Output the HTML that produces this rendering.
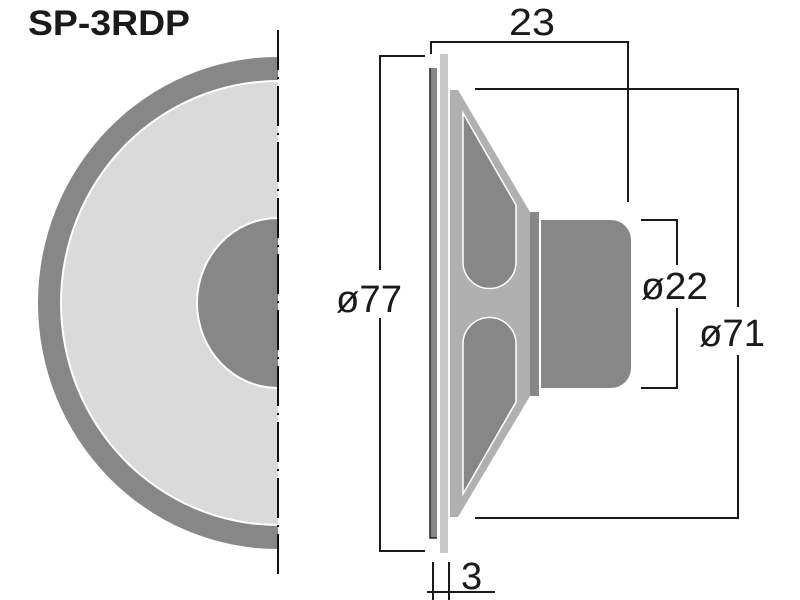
<!DOCTYPE html>
<html><head><style>html,body{margin:0;padding:0;background:#fff}svg{display:block}</style></head>
<body>
<svg width="800" height="600" viewBox="0 0 800 600" xmlns="http://www.w3.org/2000/svg" font-family="Liberation Sans, sans-serif">
<rect width="800" height="600" fill="#fff"/>
<text x="28" y="35" font-size="35" font-weight="bold" fill="#1a1a1a" textLength="162" lengthAdjust="spacingAndGlyphs">SP-3RDP</text>
<!-- left view -->
<clipPath id="lh"><rect x="0" y="0" width="278" height="600"/></clipPath>
<g clip-path="url(#lh)">
<ellipse cx="278" cy="303" rx="240" ry="246" fill="#878787"/>
<ellipse cx="278" cy="303" rx="218" ry="223" fill="#fff"/>
<ellipse cx="278" cy="303" rx="216" ry="221" fill="#dadada"/>
<ellipse cx="278" cy="303" rx="82" ry="86" fill="#fff"/>
<ellipse cx="278" cy="303" rx="80" ry="84" fill="#878787"/>
</g>
<line x1="278" y1="30" x2="278" y2="578" stroke="#111" stroke-width="2" stroke-dasharray="40,7,2,7"/>
<!-- side view -->
<rect x="430" y="68" width="7" height="470" fill="#878787"/>
<path d="M430 68V538H437" fill="none" stroke="#222" stroke-width="1.5"/>
<rect x="440" y="54" width="8" height="499" fill="#c8c8c8"/>
<path d="M450 90H458L530 212V396L458 517H450Z" fill="#b0b0b0"/>
<path d="M463 113L516 205V262A26.5 26.5 0 0 1 463 262Z" fill="#878787" stroke="#fff" stroke-width="1.5"/>
<path d="M463 344A26.5 26.5 0 0 1 516 344V402L463 494Z" fill="#878787" stroke="#fff" stroke-width="1.5"/>
<rect x="530" y="212" width="9" height="184" fill="#878787"/>
<path d="M541 220H611A20 20 0 0 1 631 240V368A20 20 0 0 1 611 388H541Z" fill="#878787"/>
<!-- dims -->
<g stroke="#1a1a1a" stroke-width="2" fill="none">
<path d="M431 54V42H628V202"/>
<path d="M425 56H380V270M380 318V551H425"/>
<path d="M475 89H738V307M738 355V518H475"/>
<path d="M641 220H677V265M677 308V388H641"/>
<path d="M433 562V600M449 562V600M427 592H495"/>
</g>
<g fill="#1a1a1a" font-size="38">
<text x="509" y="35" textLength="46" lengthAdjust="spacingAndGlyphs">23</text>
<text x="336" y="312" textLength="66" lengthAdjust="spacingAndGlyphs">ø77</text>
<text x="641" y="299" textLength="67" lengthAdjust="spacingAndGlyphs">ø22</text>
<text x="699" y="346" textLength="66" lengthAdjust="spacingAndGlyphs">ø71</text>
<text x="461" y="589">3</text>
</g>
</svg>
</body></html>
